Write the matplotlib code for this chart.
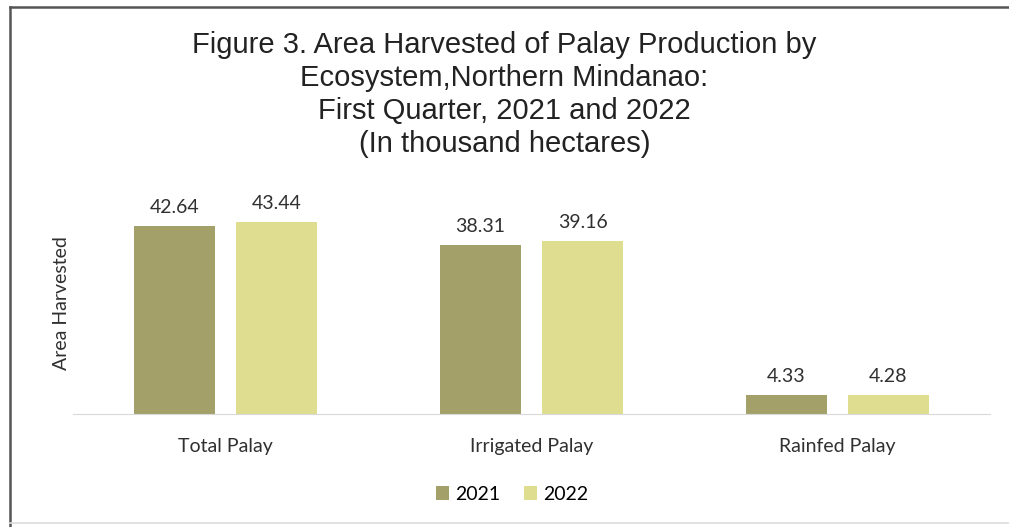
import numpy as np
import matplotlib.pyplot as plt
from matplotlib.lines import Line2D

# Data
categories = ["Total Palay", "Irrigated Palay", "Rainfed Palay"]
years = ["2021", "2022"]
area_2021 = [42.64, 38.31, 4.33]
area_2022 = [43.44, 39.16, 4.28]
colors = ["#a3a169", "#dfdd90"]

title = ("Figure 3. Area Harvested of Palay Production by\n"
         "Ecosystem,Northern Mindanao:\n"
         "First Quarter, 2021 and 2022\n"
         "(In thousand hectares)")

fig = plt.figure(figsize=(10.09, 5.27), dpi=100)
ax = fig.add_axes([73 / 1009, 113 / 527, 917 / 1009, 221 / 527])

x = np.arange(len(categories))
width = 0.265
offset = 0.167

for vals, yr, c, dx in zip([area_2021, area_2022], years, colors, [-offset, offset]):
    bars = ax.bar(x + dx, vals, width, color=c, label=yr)
    for b, v in zip(bars, vals):
        ax.annotate(f"{v:.2f}", (b.get_x() + b.get_width() / 2, v),
                    xytext=(0, 7), textcoords="offset points",
                    ha="center", va="bottom", fontsize=14,
                    family="Lato", color="#303030")

ax.set_xlim(-0.5, len(categories) - 0.5)
ax.set_ylim(0, 50)
ax.set_xticks(x)
ax.set_xticklabels(categories, fontsize=14, family="Lato", color="#303030")
ax.tick_params(axis="x", length=0, pad=17)
ax.set_yticks([])
for s in ["top", "right", "left"]:
    ax.spines[s].set_visible(False)
ax.spines["bottom"].set_color("#d9d9d9")
ax.set_ylabel("Area Harvested", fontsize=14, family="Lato", color="#303030", labelpad=2)

fig.text(0.5, 1 - 31 / 527, title, ha="center", va="top", fontsize=21,
         family="Liberation Sans", color="#222222", linespacing=1.22)

fig.legend(loc="center", bbox_to_anchor=(512 / 1009, 1 - 494 / 527), frameon=False,
           ncol=2, prop={"family": "Lato", "size": 14},
           handlelength=0.7, handleheight=0.7, handletextpad=0.3, columnspacing=1.2)

# border of the scanned chart: dark top and left edges, faint bottom edge
W, H = 1009, 527
fig.add_artist(Line2D([10 / W, 1], [1 - 7 / H, 1 - 7 / H], color="#555555", lw=1.8))
fig.add_artist(Line2D([10 / W, 10 / W], [0, 1 - 7 / H], color="#555555", lw=1.8))
fig.add_artist(Line2D([10 / W, 1], [1 - 523 / H, 1 - 523 / H], color="#dddddd", lw=1.2))

fig.savefig("out.png", dpi=100)
